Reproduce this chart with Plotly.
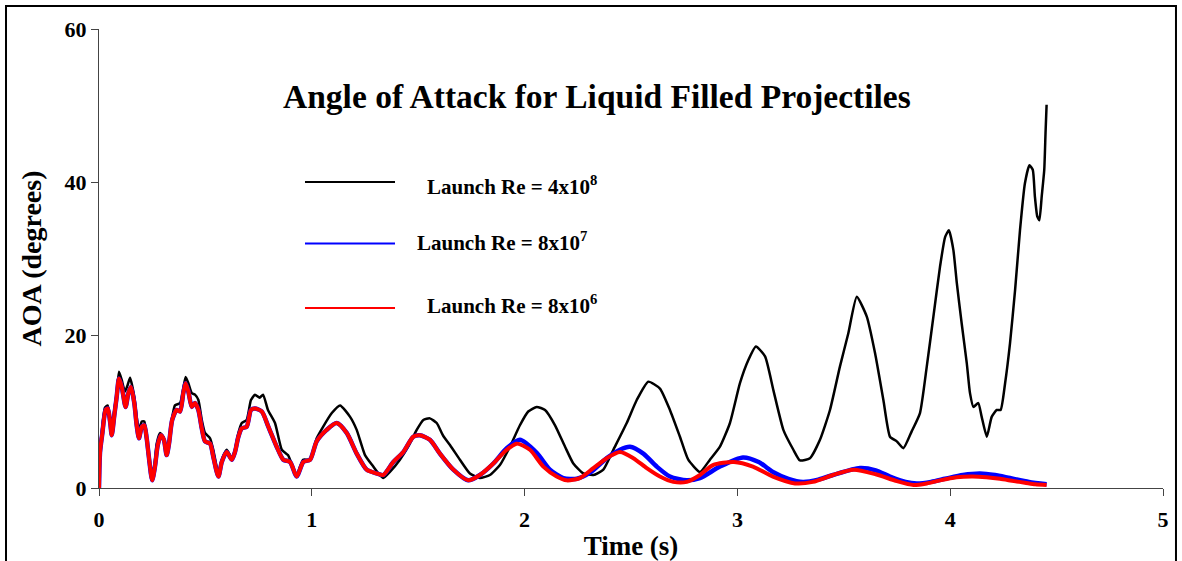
import plotly.graph_objects as go

# ---- data (time in s, AOA in degrees) ----
t_re4e8 = [0.000, 0.005, 0.013, 0.028, 0.041, 0.052, 0.060, 0.070, 0.083, 0.094, 0.107, 0.122, 0.135, 0.146,
           0.166, 0.177, 0.188, 0.201, 0.213, 0.224, 0.232, 0.248, 0.260, 0.271, 0.287, 0.302, 0.318, 0.329,
           0.342, 0.357, 0.381, 0.396, 0.407, 0.420, 0.436, 0.451, 0.467, 0.483, 0.498, 0.522, 0.537, 0.561,
           0.577, 0.600, 0.624, 0.639, 0.655, 0.671, 0.694, 0.714, 0.733, 0.755, 0.771, 0.794, 0.827, 0.859,
           0.888, 0.929, 0.959, 0.992, 1.023, 1.053, 1.094, 1.133, 1.180, 1.211, 1.250, 1.289, 1.313, 1.336,
           1.367, 1.414, 1.453, 1.493, 1.524, 1.555, 1.587, 1.618, 1.650, 1.696, 1.743, 1.790, 1.837, 1.884,
           1.931, 1.978, 2.017, 2.057, 2.096, 2.143, 2.190, 2.229, 2.276, 2.323, 2.370, 2.417, 2.480, 2.527,
           2.581, 2.636, 2.683, 2.730, 2.769, 2.824, 2.871, 2.918, 2.965, 3.012, 3.051, 3.087, 3.130, 3.169,
           3.216, 3.263, 3.294, 3.341, 3.388, 3.435, 3.482, 3.521, 3.561, 3.608, 3.647, 3.686, 3.717, 3.749,
           3.780, 3.819, 3.858, 3.890, 3.921, 3.952, 3.976, 3.994, 4.015, 4.031, 4.054, 4.078, 4.093, 4.109,
           4.132, 4.148, 4.172, 4.195, 4.219, 4.237, 4.258, 4.281, 4.305, 4.328, 4.351, 4.372, 4.388, 4.398,
           4.409, 4.419, 4.430, 4.442, 4.448, 4.453]
aoa_re4e8 = [0.0, 5.0, 7.4, 10.5, 10.8, 8.9, 6.9, 9.8, 12.4, 15.2, 14.1, 12.6, 13.5, 14.4,
             11.9, 9.3, 7.6, 8.7, 8.7, 6.7, 4.1, 1.3, 2.8, 5.8, 7.2, 6.7, 4.5, 6.3,
             8.9, 10.8, 11.1, 13.0, 14.5, 13.7, 12.4, 12.2, 11.5, 8.9, 7.2, 6.5, 5.0, 1.9,
             3.7, 5.0, 3.9, 5.0, 7.2, 8.5, 8.9, 11.5, 12.2, 11.8, 12.2, 10.2, 8.5, 5.0,
             4.3, 1.7, 3.7, 3.7, 6.5, 8.0, 9.8, 10.8, 9.3, 7.6, 4.3, 2.8, 1.9, 1.3,
             2.1, 3.7, 5.4, 7.6, 8.9, 9.1, 8.5, 6.8, 5.6, 3.7, 1.9, 1.3, 1.7, 3.0,
             5.4, 8.2, 10.0, 10.6, 10.2, 8.2, 5.4, 3.2, 1.9, 1.7, 2.4, 5.0, 8.5, 11.5,
             13.9, 13.0, 10.2, 6.7, 3.7, 2.1, 3.7, 5.4, 8.5, 13.7, 16.7, 18.5, 17.2, 12.8,
             7.6, 5.0, 3.6, 3.9, 6.3, 10.2, 15.9, 20.2, 25.0, 22.4, 17.6, 11.5, 6.7, 6.1,
             5.2, 7.4, 9.8, 15.9, 22.4, 28.9, 32.8, 33.7, 31.1, 26.8, 21.5, 16.3, 12.4, 10.6,
             11.1, 9.3, 6.7, 9.3, 10.2, 10.2, 13.7, 18.9, 25.9, 33.7, 39.8, 42.2, 41.6, 38.1,
             35.5, 35.0, 38.1, 41.6, 46.4, 50.1]

t_re8e7 = [0.000, 0.005, 0.016, 0.031, 0.041, 0.052, 0.060, 0.072, 0.083, 0.094, 0.107, 0.125, 0.138, 0.150,
           0.166, 0.177, 0.188, 0.201, 0.213, 0.224, 0.235, 0.250, 0.263, 0.276, 0.291, 0.305, 0.318, 0.329,
           0.344, 0.365, 0.381, 0.396, 0.407, 0.420, 0.436, 0.451, 0.467, 0.483, 0.498, 0.522, 0.537, 0.561,
           0.577, 0.600, 0.624, 0.639, 0.655, 0.671, 0.694, 0.714, 0.733, 0.765, 0.796, 0.835, 0.866, 0.898,
           0.929, 0.960, 0.992, 1.023, 1.070, 1.117, 1.164, 1.211, 1.258, 1.305, 1.336, 1.383, 1.430, 1.477,
           1.508, 1.555, 1.602, 1.665, 1.735, 1.790, 1.853, 1.916, 1.978, 2.057, 2.119, 2.182, 2.245, 2.307,
           2.386, 2.448, 2.495, 2.558, 2.621, 2.683, 2.762, 2.824, 2.918, 3.026, 3.100, 3.167, 3.240, 3.308,
           3.380, 3.449, 3.576, 3.650, 3.717, 3.790, 3.843, 3.910, 3.976, 4.060, 4.140, 4.210, 4.281, 4.370,
           4.453]
aoa_re8e7 = [0.0, 4.7, 7.2, 10.2, 10.4, 8.7, 6.9, 9.5, 11.9, 14.3, 13.2, 10.6, 12.4, 13.2,
             11.1, 8.2, 6.5, 8.0, 8.2, 6.5, 3.9, 1.0, 2.8, 5.6, 6.9, 6.3, 4.3, 5.8,
             8.9, 10.2, 10.0, 12.4, 13.7, 12.6, 10.6, 11.1, 10.2, 7.8, 6.1, 5.8, 4.1, 1.5,
             3.4, 4.7, 3.7, 4.7, 6.7, 7.8, 8.0, 10.2, 10.4, 10.0, 8.0, 5.4, 3.7, 3.4,
             1.5, 3.4, 3.7, 6.1, 7.6, 8.5, 7.2, 4.5, 2.4, 1.9, 1.7, 3.4, 4.7, 6.7,
             6.9, 6.3, 4.5, 2.4, 1.0, 1.7, 3.2, 5.2, 6.3, 4.6, 2.4, 1.3, 1.2, 2.0,
             3.9, 5.0, 5.4, 4.5, 2.8, 1.5, 1.0, 1.3, 2.8, 4.0, 3.4, 2.1, 1.2, 0.8,
             1.1, 1.7, 2.6, 2.3, 1.5, 0.8, 0.6, 0.8, 1.2, 1.7, 1.9, 1.7, 1.3, 0.8,
             0.5]

t_re8e6 = [0.000, 0.005, 0.016, 0.031, 0.041, 0.052, 0.060, 0.072, 0.083, 0.094, 0.107, 0.125, 0.138, 0.150,
           0.166, 0.177, 0.188, 0.201, 0.213, 0.224, 0.235, 0.250, 0.263, 0.276, 0.291, 0.305, 0.318, 0.329,
           0.344, 0.365, 0.381, 0.396, 0.407, 0.420, 0.436, 0.451, 0.467, 0.483, 0.498, 0.522, 0.537, 0.561,
           0.577, 0.600, 0.624, 0.639, 0.655, 0.671, 0.694, 0.714, 0.733, 0.765, 0.796, 0.835, 0.866, 0.898,
           0.929, 0.960, 0.992, 1.023, 1.070, 1.117, 1.164, 1.211, 1.258, 1.305, 1.336, 1.383, 1.430, 1.477,
           1.508, 1.555, 1.602, 1.665, 1.735, 1.790, 1.853, 1.916, 1.963, 2.025, 2.088, 2.151, 2.198, 2.260,
           2.323, 2.386, 2.448, 2.511, 2.574, 2.636, 2.699, 2.762, 2.824, 2.885, 2.984, 3.073, 3.167, 3.271,
           3.355, 3.449, 3.545, 3.650, 3.750, 3.827, 3.890, 3.952, 4.030, 4.107, 4.170, 4.234, 4.300, 4.351,
           4.400, 4.453]
aoa_re8e6 = [0.0, 4.7, 7.2, 10.2, 10.4, 8.7, 6.9, 9.5, 11.9, 14.3, 13.2, 10.6, 12.4, 13.2,
             11.1, 8.2, 6.5, 8.0, 8.2, 6.5, 3.9, 1.0, 2.8, 5.6, 6.9, 6.3, 4.3, 5.8,
             8.9, 10.2, 10.0, 12.4, 13.7, 12.6, 10.6, 11.1, 10.2, 7.8, 6.1, 5.8, 4.1, 1.5,
             3.4, 4.7, 3.7, 4.7, 6.7, 7.8, 8.0, 10.2, 10.4, 10.0, 8.0, 5.4, 3.7, 3.4,
             1.5, 3.4, 3.7, 6.1, 7.6, 8.5, 7.2, 4.5, 2.4, 1.9, 1.7, 3.4, 4.7, 6.7,
             6.9, 6.3, 4.5, 2.4, 1.0, 1.7, 3.2, 5.0, 5.8, 5.0, 2.8, 1.5, 1.0, 1.3,
             2.6, 3.9, 4.7, 3.9, 2.6, 1.5, 0.8, 0.8, 1.7, 3.0, 3.4, 2.8, 1.5, 0.6,
             0.8, 1.7, 2.4, 1.8, 0.9, 0.4, 0.6, 1.0, 1.4, 1.5, 1.4, 1.2, 0.9, 0.7,
             0.5, 0.4]

series_names = ["Launch Re = 4x10<sup>8</sup>", "Launch Re = 8x10<sup>7</sup>", "Launch Re = 8x10<sup>6</sup>"]
series_colors = ["#000000", "#0000FF", "#FF0000"]
x_ticks = [0, 1, 2, 3, 4, 5]
y_ticks = [0, 20, 40, 60]

FONT = "Liberation Serif"

fig = go.Figure()
fig.add_trace(go.Scatter(x=t_re4e8, y=aoa_re4e8, mode="lines",
                         line=dict(color=series_colors[0], width=2.5, shape="spline", smoothing=0.5),
                         showlegend=False))
fig.add_trace(go.Scatter(x=t_re8e7, y=aoa_re8e7, mode="lines",
                         line=dict(color=series_colors[1], width=4.5, shape="spline", smoothing=0.7),
                         showlegend=False))
fig.add_trace(go.Scatter(x=t_re8e6, y=aoa_re8e6, mode="lines",
                         line=dict(color=series_colors[2], width=4, shape="spline", smoothing=0.7),
                         showlegend=False))

# custom legend (lines + labels placed like the original)
leg_line_y = [0.6667, 0.5327, 0.3922]
leg_text_x = [0.3064, 0.2970, 0.3064]
leg_text_y = [0.660, 0.536, 0.399]
for i in range(3):
    fig.add_shape(type="line", xref="paper", yref="paper", x0=0.1936, x1=0.2782,
                  y0=leg_line_y[i], y1=leg_line_y[i], line=dict(color=series_colors[i], width=2))
    fig.add_annotation(text="<b>" + series_names[i] + "</b>", xref="paper", yref="paper",
                       x=leg_text_x[i], y=leg_text_y[i], xanchor="left", yanchor="middle",
                       showarrow=False, font=dict(family=FONT, size=21, color="black"))

# title
fig.add_annotation(text="<b>Angle of Attack for Liquid Filled Projectiles</b>", xref="paper", yref="paper",
                   x=0.468, y=0.854, xanchor="center", yanchor="middle", showarrow=False,
                   font=dict(family=FONT, size=33.5, color="black"))

# outer frame
fig.add_shape(type="rect", xref="paper", yref="paper", x0=-0.0874, x1=1.0122, y0=-0.2, y1=1.050,
              line=dict(color="black", width=2), fillcolor="rgba(0,0,0,0)", layer="above")

fig.update_layout(
    width=1182, height=561,
    margin=dict(l=99, r=19, t=29, b=73, autoexpand=False),
    paper_bgcolor="white", plot_bgcolor="white",
    font=dict(family=FONT, color="black"),
    xaxis=dict(range=[0, 5], tickvals=x_ticks, ticks="outside", ticklen=7, tickcolor="#444",
               showline=True, linecolor="#444", linewidth=1, showgrid=False, zeroline=False,
               automargin=False,
               tickfont=dict(family=FONT, size=22, color="black", weight="bold"),
               ticklabelstandoff=5,
               title=dict(text="<b>Time (s)</b>", font=dict(family=FONT, size=27, color="black"), standoff=4)),
    yaxis=dict(range=[0, 60], tickvals=y_ticks, ticks="outside", ticklen=7, tickcolor="#444",
               showline=True, linecolor="#444", linewidth=1, showgrid=False, zeroline=False,
               automargin=False,
               tickfont=dict(family=FONT, size=22, color="black", weight="bold"),
               title=dict(text="<b>AOA (degrees)</b>", font=dict(family=FONT, size=28, color="black"), standoff=14)),
)

fig.write_html("out.html")
